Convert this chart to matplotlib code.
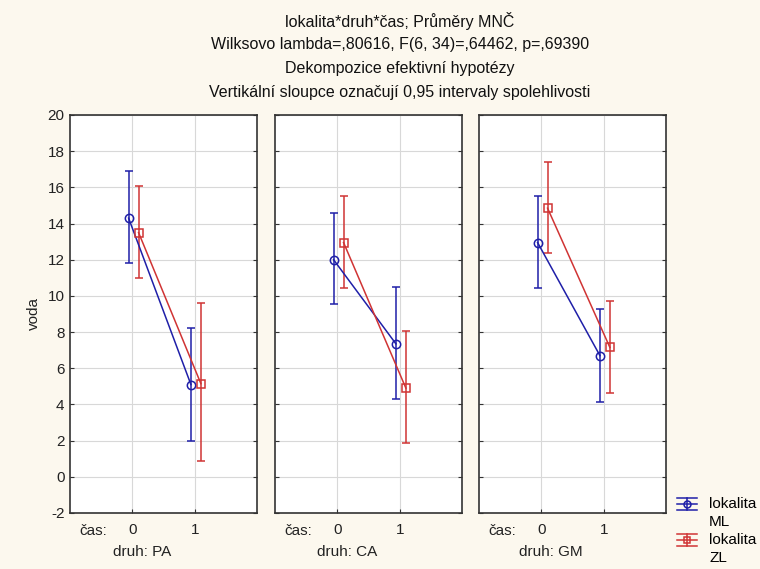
import matplotlib
matplotlib.use("Agg")
import matplotlib.pyplot as plt
from matplotlib.legend_handler import HandlerBase
from matplotlib.lines import Line2D
import numpy as np

druh = ["PA", "CA", "GM"]
cas = [0, 1]
series = ["lokalita\nML", "lokalita\nZL"]

ml_mean = [[14.3, 5.1], [12.0, 7.35], [12.95, 6.7]]
ml_low = [[11.8, 2.0], [9.55, 4.3], [10.45, 4.15]]
ml_high = [[16.9, 8.25], [14.6, 10.5], [15.55, 9.25]]

zl_mean = [[13.5, 5.15], [12.95, 4.9], [14.85, 7.15]]
zl_low = [[11.0, 0.85], [10.45, 1.85], [12.35, 4.65]]
zl_high = [[16.1, 9.6], [15.55, 8.05], [17.4, 9.7]]

title_lines = [
    "lokalita*druh*čas; Průměry MNČ",
    "Wilksovo lambda=,80616, F(6, 34)=,64462, p=,69390",
    "Dekompozice efektivní hypotézy",
    "Vertikální sloupce označují 0,95 intervaly spolehlivosti",
]

plt.rcParams["font.family"] = ["Liberation Sans", "DejaVu Sans"]
plt.rcParams["axes.unicode_minus"] = False

W, H = 760, 569
fig = plt.figure(figsize=(W / 100, H / 100), dpi=100)
fig.patch.set_facecolor("#fcf8ee")

blue = "#1f1fa8"
red = "#d03434"
frame = "#333333"
fs = 11
tc = "#222222"

lefts = [70, 275, 479]
aw, top, bot = 187, 115, 513
offsets = [-0.06, 0.1]


class ErrIconHandler(HandlerBase):
    def __init__(self, color, marker):
        super().__init__()
        self.color = color
        self.marker = marker

    def create_artists(self, legend, orig_handle, xdescent, ydescent, width, height,
                       fontsize, trans):
        yc = height / 2 - ydescent + 6.5
        dy = 4.5
        arts = []
        for yy in (yc - dy, yc, yc + dy):
            arts.append(Line2D([-xdescent, -xdescent + width], [yy, yy], color=self.color,
                               lw=1.1, transform=trans))
        cx = -xdescent + width / 2
        arts.append(Line2D([cx, cx], [yc - dy, yc + dy], color=self.color, lw=1.1,
                           transform=trans))
        arts.append(Line2D([cx], [yc], color=self.color, marker=self.marker, markersize=5,
                           markerfacecolor="none", markeredgewidth=1.1, transform=trans))
        return arts


handles = []
for i, d in enumerate(druh):
    ax = fig.add_axes([lefts[i] / W, 1 - bot / H, aw / W, (bot - top) / H])
    ax.set_facecolor("white")
    ax.set_xlim(-1, 2)
    ax.set_ylim(-2, 20)
    ax.set_yticks(np.arange(-2, 21, 2))
    ax.set_xticks(cas)
    ax.grid(True, color="#d8d8d8", linewidth=0.8)
    ax.set_axisbelow(True)
    for s in ax.spines.values():
        s.set_color(frame)
        s.set_linewidth(1.2)
    ax.tick_params(axis="y", direction="in", length=3, color=frame, left=True, right=True,
                   labelsize=fs, labelcolor=tc, pad=4)
    ax.tick_params(axis="x", direction="in", length=3, color=frame, labelsize=fs,
                   labelcolor=tc, pad=7)
    if i > 0:
        ax.tick_params(axis="y", labelleft=False)
    else:
        ax.set_ylabel("voda", fontsize=fs, color=tc, labelpad=5)
    for k, (mean, low, high, col, mk) in enumerate([
        (ml_mean, ml_low, ml_high, blue, "o"),
        (zl_mean, zl_low, zl_high, red, "s"),
    ]):
        x = np.array(cas) + offsets[k]
        m = np.array(mean[i])
        err = np.vstack([m - np.array(low[i]), np.array(high[i]) - m])
        h = ax.errorbar(x, m, yerr=err, color=col, marker=mk, markersize=6,
                        markerfacecolor="none", markeredgewidth=1.1, linewidth=1.1,
                        elinewidth=1.1, capsize=3, capthick=1.1, label=series[k])
        if i == 2:
            handles.append(h)
    ax.annotate("čas:", xy=(-0.62, 0), xycoords=("data", "axes fraction"),
                xytext=(0, -7.6), textcoords="offset points", ha="center", va="top",
                fontsize=fs, color=tc)
    ax.annotate("druh: " + d, xy=(0.15, 0), xycoords=("data", "axes fraction"),
                xytext=(0, -23), textcoords="offset points", ha="center", va="top",
                fontsize=fs, color=tc)

leg = fig.legend(handles=handles, labels=series, loc="upper left",
                 bbox_to_anchor=(677 / W, 1 - 497 / H), frameon=False, fontsize=fs,
                 handlelength=1.3, handletextpad=0.8, labelspacing=0.25, borderpad=0,
                 borderaxespad=0,
                 handler_map={handles[0]: ErrIconHandler(blue, "o"),
                              handles[1]: ErrIconHandler(red, "s")})
for t in leg.get_texts():
    t.set_linespacing(1.37)

for j, t in enumerate(title_lines):
    fig.text(400 / W, 1 - (21 + 24 * j) / H, t, ha="center", va="center", fontsize=fs + 0.5,
             color="#111111")

fig.savefig("out.png", dpi=100, facecolor=fig.get_facecolor())
